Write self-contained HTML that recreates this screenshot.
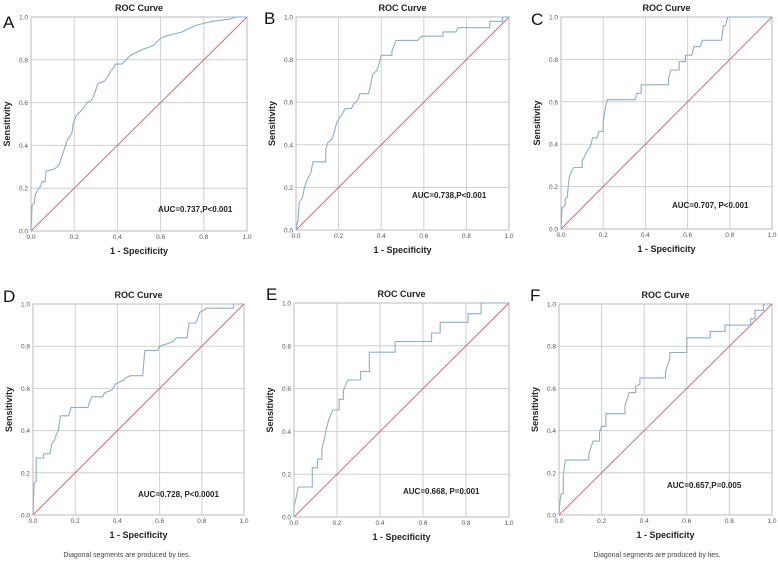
<!DOCTYPE html>
<html><head><meta charset="utf-8">
<style>
body{margin:0;background:#fff;}
svg{display:block;font-family:"Liberation Sans",sans-serif;}
</style></head>
<body>
<svg id="chart" width="778" height="561" viewBox="0 0 778 561"></svg>
<script>
const ticks = [0, 0.2, 0.4, 0.6, 0.8, 1.0];
const tickLabels = ["0.0","0.2","0.4","0.6","0.8","1.0"];
const panelLetters = ["A","B","C","D","E","F"];
const aucLabels = ["AUC=0.737,P<0.001","AUC=0.738,P<0.001","AUC=0.707, P<0.001","AUC=0.728, P<0.0001","AUC=0.668, P=0.001","AUC=0.657,P=0.005"];
const curveA = [[0,0],[0.005,0.12],[0.015,0.13],[0.02,0.17],[0.03,0.19],[0.045,0.21],[0.05,0.23],[0.065,0.23],[0.07,0.28],[0.11,0.29],[0.13,0.31],[0.14,0.34],[0.15,0.37],[0.16,0.40],[0.17,0.43],[0.18,0.44],[0.19,0.46],[0.195,0.50],[0.21,0.54],[0.22,0.55],[0.24,0.57],[0.26,0.60],[0.28,0.61],[0.29,0.63],[0.30,0.66],[0.31,0.69],[0.34,0.70],[0.36,0.73],[0.37,0.75],[0.38,0.76],[0.39,0.78],[0.42,0.78],[0.44,0.80],[0.46,0.82],[0.48,0.83],[0.50,0.84],[0.52,0.85],[0.55,0.86],[0.57,0.87],[0.58,0.88],[0.60,0.90],[0.62,0.91],[0.66,0.92],[0.70,0.93],[0.72,0.94],[0.76,0.96],[0.80,0.97],[0.84,0.98],[0.92,0.99],[0.95,1.0],[1,1]];
const curveB = [[0,0],[0.01,0.05],[0.015,0.13],[0.03,0.15],[0.04,0.2],[0.05,0.23],[0.07,0.27],[0.08,0.32],[0.14,0.32],[0.14,0.38],[0.15,0.41],[0.17,0.43],[0.18,0.46],[0.19,0.5],[0.2,0.52],[0.22,0.55],[0.23,0.57],[0.26,0.57],[0.27,0.59],[0.29,0.61],[0.3,0.64],[0.34,0.64],[0.35,0.68],[0.36,0.73],[0.38,0.75],[0.39,0.78],[0.4,0.82],[0.45,0.82],[0.45,0.84],[0.47,0.89],[0.57,0.89],[0.59,0.91],[0.69,0.91],[0.69,0.93],[0.75,0.93],[0.76,0.95],[0.91,0.95],[0.91,0.98],[0.97,0.98],[0.97,1],[1,1]];
const curveC = [[0,0],[0.005,0.1],[0.02,0.11],[0.02,0.14],[0.03,0.15],[0.035,0.21],[0.04,0.25],[0.06,0.29],[0.1,0.29],[0.1,0.32],[0.12,0.36],[0.14,0.39],[0.15,0.43],[0.17,0.43],[0.18,0.46],[0.2,0.46],[0.2,0.5],[0.21,0.57],[0.22,0.61],[0.35,0.61],[0.36,0.64],[0.38,0.64],[0.38,0.68],[0.51,0.68],[0.51,0.71],[0.52,0.75],[0.56,0.75],[0.56,0.79],[0.59,0.79],[0.59,0.82],[0.62,0.82],[0.63,0.86],[0.66,0.86],[0.67,0.89],[0.76,0.89],[0.77,0.96],[0.78,0.96],[0.79,1],[1,1]];
const curveD = [[0,0],[0.005,0.15],[0.015,0.16],[0.015,0.27],[0.05,0.27],[0.05,0.29],[0.08,0.29],[0.09,0.34],[0.1,0.35],[0.11,0.38],[0.12,0.4],[0.13,0.47],[0.17,0.47],[0.18,0.51],[0.26,0.51],[0.27,0.54],[0.28,0.56],[0.33,0.56],[0.34,0.58],[0.37,0.59],[0.38,0.6],[0.39,0.62],[0.41,0.63],[0.43,0.64],[0.44,0.65],[0.46,0.66],[0.52,0.66],[0.53,0.78],[0.59,0.78],[0.6,0.8],[0.63,0.81],[0.66,0.82],[0.68,0.84],[0.73,0.84],[0.74,0.91],[0.77,0.91],[0.78,0.93],[0.79,0.96],[0.81,0.97],[0.82,0.98],[0.95,0.98],[0.95,1],[1,1]];
const curveE = [[0,0],[0,0.05],[0.01,0.09],[0.02,0.14],[0.085,0.14],[0.085,0.23],[0.11,0.23],[0.11,0.27],[0.13,0.27],[0.13,0.32],[0.14,0.36],[0.15,0.41],[0.16,0.45],[0.18,0.5],[0.21,0.5],[0.21,0.55],[0.23,0.55],[0.23,0.59],[0.25,0.64],[0.31,0.64],[0.31,0.68],[0.35,0.68],[0.35,0.77],[0.47,0.77],[0.47,0.82],[0.64,0.82],[0.64,0.86],[0.68,0.86],[0.68,0.91],[0.81,0.91],[0.81,0.95],[0.87,0.95],[0.87,1],[1,1]];
const curveF = [[0,0],[0.005,0.07],[0.01,0.1],[0.02,0.1],[0.02,0.19],[0.03,0.26],[0.14,0.26],[0.14,0.29],[0.16,0.35],[0.19,0.35],[0.19,0.39],[0.2,0.42],[0.22,0.42],[0.22,0.48],[0.31,0.48],[0.31,0.52],[0.32,0.55],[0.33,0.58],[0.36,0.58],[0.36,0.61],[0.38,0.62],[0.38,0.65],[0.5,0.65],[0.5,0.68],[0.51,0.71],[0.52,0.74],[0.52,0.77],[0.6,0.77],[0.6,0.84],[0.71,0.84],[0.71,0.87],[0.78,0.87],[0.78,0.9],[0.9,0.9],[0.9,0.93],[0.92,0.93],[0.92,0.97],[0.96,0.97],[0.96,1],[1,1]];
const curves = [curveA, curveB, curveC, curveD, curveE, curveF];

const layout = [
  {x0:31,x1:247,y0:231,y1:17,lx:3,ly:28,ax:158,ay:212,fx:0},
  {x0:296,x1:509,y0:230,y1:17,lx:264,ly:24,ax:412,ay:198,fx:0},
  {x0:561,x1:772,y0:229,y1:17,lx:531,ly:25,ax:672,ay:208,fx:0},
  {x0:33,x1:244,y0:515,y1:304,lx:3,ly:302,ax:138,ay:497,fx:127},
  {x0:294,x1:509,y0:517,y1:303,lx:266,ly:300,ax:403,ay:494,fx:0},
  {x0:559,x1:772,y0:515,y1:304,lx:530,ly:301,ax:667,ay:488,fx:657}
];
const NS = "http://www.w3.org/2000/svg";
const svg = document.getElementById('chart');
function mk(tag, attrs, parent, text){
  const e = document.createElementNS(NS, tag);
  for (const k in attrs) e.setAttribute(k, attrs[k]);
  if (text !== undefined) e.textContent = text;
  parent.appendChild(e);
  return e;
}
layout.forEach((L, i) => {
  const g = mk('g', {}, svg);
  
  
  const sx = v => L.x0 + v * (L.x1 - L.x0);
  const sy = v => L.y0 + v * (L.y1 - L.y0);
  ticks.forEach((t, k) => {
    const gx = mk('line', {x1:sx(t),x2:sx(t),y1:L.y0,y2:L.y1,stroke:'#cfcfcf','stroke-width':1}, g);
    
    
    const gy = mk('line', {x1:L.x0,x2:L.x1,y1:sy(t),y2:sy(t),stroke:'#cfcfcf','stroke-width':1}, g);
    
    
    const tx = mk('text', {x:sx(t),y:L.y0+8,'font-size':6.5,fill:'#555','text-anchor':'middle'}, g, tickLabels[k]);
    
    
    const ty = mk('text', {x:L.x0-3,y:sy(t)+2.5,'font-size':6.5,fill:'#555','text-anchor':'end'}, g, tickLabels[k]);
    
    
  });
  const frame = mk('rect', {x:L.x0,y:L.y1,width:L.x1-L.x0,height:L.y0-L.y1,fill:'none',stroke:'#bbb','stroke-width':1}, g);
  
  
  const diag = mk('line', {x1:sx(0),y1:sy(0),x2:sx(1),y2:sy(1),stroke:'#c8707e','stroke-width':1}, g);
  
  
  const pts = curves[i].map(p => sx(p[0]).toFixed(1) + ',' + sy(p[1]).toFixed(1)).join(' ');
  const pl = mk('polyline', {points:pts,fill:'none',stroke:'#8eaecb','stroke-width':1.1}, g);
  
  
  const cx = (L.x0 + L.x1) / 2;
  const title = mk('text', {x:cx,y:L.y1-6,'font-size':9,'font-weight':'bold',fill:'#222','text-anchor':'middle'}, g, 'ROC Curve');
  
  
  const xt = mk('text', {x:cx,y:L.y0+23,'font-size':9,'font-weight':'bold',fill:'#222','text-anchor':'middle'}, g, '1 - Specificity');
  
  
  const my = (L.y0 + L.y1) / 2;
  const yt = mk('text', {x:L.x0-21,y:my,'font-size':9,'font-weight':'bold',fill:'#222','text-anchor':'middle',transform:'rotate(-90 '+(L.x0-21)+' '+my+')'}, g, 'Sensitivity');
  
  
  const lt = mk('text', {x:L.lx,y:L.ly,'font-size':17,fill:'#111'}, g, panelLetters[i]);
  
  
  const at = mk('text', {x:L.ax,y:L.ay,'font-size':8,'font-weight':'bold',fill:'#222'}, g, aucLabels[i]);
  
  
  if (L.fx) {
    const ft = mk('text', {x:L.fx,y:557,'font-size':7,fill:'#444','text-anchor':'middle'}, g, 'Diagonal segments are produced by ties.');
    
    
  }
});
</script>
</body></html>
